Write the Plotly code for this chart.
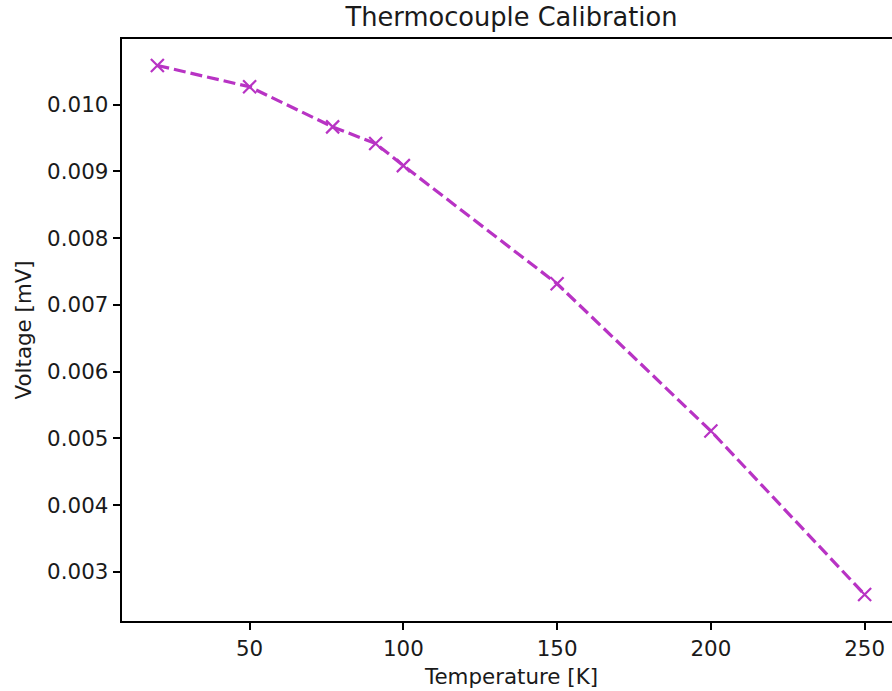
import plotly.graph_objects as go

temperature_K = [20, 50, 77, 91, 100, 150, 200, 250]
voltage_mV = [0.010585, 0.010265, 0.009665, 0.009415, 0.009085, 0.007315, 0.005110, 0.002661]
x_ticks = [50, 100, 150, 200, 250]
y_ticks = [0.003, 0.004, 0.005, 0.006, 0.007, 0.008, 0.009, 0.010]

W, H = 892, 691
L, T, B, R = 122, 39, 70, 0
color = "#b833c4"
font = "DejaVu Sans"
fs = 21.4

fig = go.Figure()
fig.add_trace(go.Scatter(
    x=temperature_K, y=voltage_mV, mode="lines+markers",
    line=dict(color=color, width=3.2, dash="12px,5px"),
    marker=dict(symbol="x-thin", size=13, line=dict(color=color, width=2.2)),
    showlegend=False,
))

axis_common = dict(
    showgrid=False, zeroline=False, showline=True, linecolor="black", linewidth=1.7,
    ticks="outside", ticklen=7.5, tickwidth=1.7, tickcolor="black",
    tickfont=dict(family=font, size=fs, color="#1a1a1a"),
)
fig.update_xaxes(range=[8.5, 258.9], tickvals=x_ticks, mirror=True, **axis_common)
fig.update_yaxes(range=[0.002265, 0.010981], tickvals=y_ticks, tickformat=".3f",
                 mirror=False, **axis_common)

fig.update_layout(
    width=W, height=H,
    margin=dict(l=L, r=R, t=T, b=B, pad=0),
    plot_bgcolor="white", paper_bgcolor="white",
    title=dict(text="Thermocouple Calibration", x=511.5 / W, xanchor="center",
               xref="container", y=1 - 17 / H, yanchor="middle", yref="container",
               font=dict(family=font, size=25.7, color="#1a1a1a")),
    annotations=[
        dict(text="Temperature [K]", xref="paper", yref="paper",
             x=(511 - L) / (W - L - R), y=-(676 - (H - B)) / (H - T - B),
             xanchor="center", yanchor="middle", showarrow=False,
             font=dict(family=font, size=fs, color="#1a1a1a")),
        dict(text="Voltage [mV]", xref="paper", yref="paper",
             x=-(L - 22.5) / (W - L - R), y=0.5, textangle=-90,
             xanchor="center", yanchor="middle", showarrow=False,
             font=dict(family=font, size=fs, color="#1a1a1a")),
    ],
)

fig.write_html("out.html")
